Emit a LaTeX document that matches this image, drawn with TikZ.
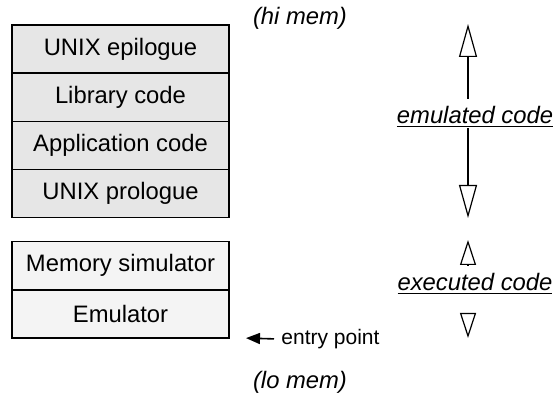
\documentclass[tikz,border=0pt]{standalone}
\usepackage{fontspec}
\setmainfont{Liberation Sans}
\usetikzlibrary{arrows.meta,positioning,calc}
\definecolor{codefill}{HTML}{E6E6E6}
\definecolor{emufill}{HTML}{F4F4F4}
\tikzset{
  seg/.style      = {draw,line width=0.7pt,minimum width=108.5pt,
                     minimum height=24.1pt,inner sep=0pt,outer sep=0pt,
                     font=\fontsize{11.9}{14}\selectfont},
  usercode/.style = {seg,fill=codefill},
  emucode/.style  = {seg,fill=emufill},
  memlbl/.style   = {font=\fontsize{11.9}{14}\selectfont\itshape,inner sep=0pt},
  kindlbl/.style  = {font=\fontsize{11.9}{14}\selectfont\itshape,inner sep=0pt},
  bigtri/.style   = {-{Triangle[open,length=16.5pt,width=9pt]},line width=0.6pt},
  smalltri/.style = {-{Triangle[open,length=12.5pt,width=8pt]},line width=0.6pt},
  entryarr/.style = {-{Triangle[length=7pt,width=5.5pt]},line width=0.8pt},
}

\begin{document}
\begin{tikzpicture}[x=0.5pt,y=-0.5pt]
  \useasboundingbox (0,0) rectangle (555,394);
  % code that is run by the emulator
  \node[usercode] (epi) at (120.5,49.1) {UNIX epilogue};
  \node[usercode,below=0pt of epi] (lib) {Library code};
  \node[usercode,below=0pt of lib] (app) {Application code};
  \node[usercode,below=0pt of app] (pro) {UNIX prologue};
  % code that is run directly
  \node[emucode] (msim) at (120.5,265.8) {Memory simulator};
  \node[emucode,below=0pt of msim] (emul) {Emulator};

  \node[memlbl] (himem) at (300,18) {(hi mem)};
  \node[memlbl] (lomem) at (300,382) {(lo mem)};

  \node[font=\fontsize{10.5}{12}\selectfont,inner sep=1.5pt,anchor=west]
       (entry) at (278,339) {entry point};
  \draw[entryarr,shorten <=2pt] (entry.west) -- ([xshift=8.5pt]emul.south east);

  % direction of execution
  \node[kindlbl] (emu) at (475,117) {\underline{emulated code}};
  \node[kindlbl] (exe) at (475,284) {\underline{executed code}};
  \coordinate (emuhi) at (468,24);
  \coordinate (emulo) at (468,218);
  \coordinate (exehi) at (468,240);
  \coordinate (exelo) at (468,338);
  \draw[bigtri] ($(emu.north -| emuhi)+(0,-7)$) -- (emuhi);
  \draw[bigtri] ($(emu.south -| emulo)+(0,0)$) -- (emulo);
  \draw[smalltri] ($(exehi)+(0,25)$) -- (exehi);
  \draw[smalltri] ($(exelo)+(0,-25)$) -- (exelo);
\end{tikzpicture}
\end{document}
